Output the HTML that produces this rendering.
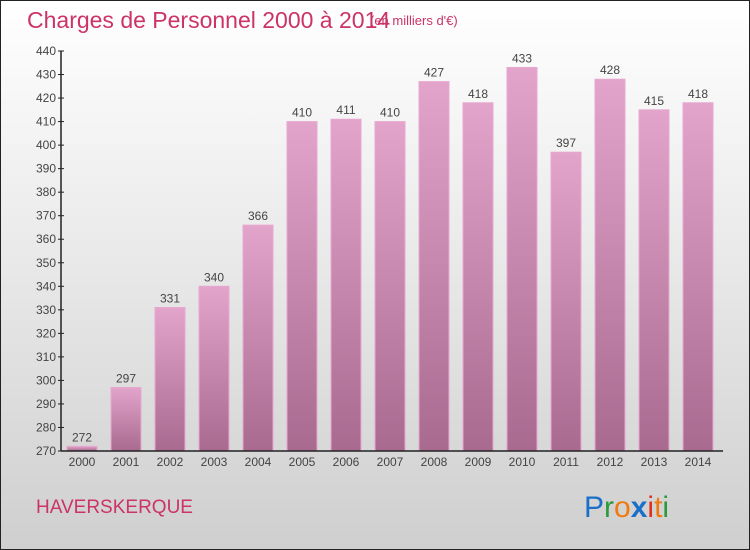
<!DOCTYPE html>
<html><head><meta charset="utf-8"><style>
body{margin:0}
#c{position:relative;width:748px;height:548px;border:1px solid #222;background:linear-gradient(#ffffff 0%,#eaeaea 45%,#cfcfcf 100%);font-family:"Liberation Sans",sans-serif;overflow:hidden}
</style></head><body>
<div id="c">
<svg width="748" height="548">
<defs><linearGradient id="bg" x1="0" y1="0" x2="0" y2="1"><stop offset="0" stop-color="#e3a4cb"/><stop offset="1" stop-color="#a96a90"/></linearGradient></defs>
<text x="26" y="27" font-size="23" fill="#cc3366">Charges de Personnel 2000 à 2014</text>
<text x="369" y="24" font-size="13" fill="#cc3366">(en milliers d'€)</text>
<g id="plot"></g>
<text x="35" y="512" font-size="19" fill="#cc3366">HAVERSKERQUE</text>
<g font-size="30" font-family="Liberation Sans, sans-serif">
<text x="583" y="516"><tspan fill="#1a6fc9">P</tspan><tspan fill="#2a9a3a">r</tspan><tspan fill="#f07a10">o</tspan><tspan fill="#1a6fc9" font-weight="bold">x</tspan><tspan fill="#e03020">i</tspan><tspan fill="#f07a10">t</tspan><tspan fill="#2a9a3a">i</tspan></text>
</g>
</svg>
</div>
<script>
const categories=["2000","2001","2002","2003","2004","2005","2006","2007","2008","2009","2010","2011","2012","2013","2014"];
const values=[272,297,331,340,366,410,411,410,427,418,433,397,428,415,418];
const yTicks=[270,280,290,300,310,320,330,340,350,360,370,380,390,400,410,420,430,440];
const NS="http://www.w3.org/2000/svg";
const g=document.getElementById("plot");
const y0=450,y1=50,vmin=270,vmax=440,axisX=60;
const y=v=>y0-(v-vmin)/(vmax-vmin)*(y0-y1);
const x=i=>81+i*44;
function mk(t,a){const e=document.createElementNS(NS,t);for(const k in a)e.setAttribute(k,a[k]);g.appendChild(e);return e;}
yTicks.forEach(t=>{
 const l=mk("line",{x1:axisX-3,x2:axisX+3,y1:y(t),y2:y(t),stroke:"#222"});
 
 
 const tx=mk("text",{x:axisX-5,y:y(t)+4,"text-anchor":"end","font-size":"12",fill:"#444"});
 tx.textContent=t;
 
 
});
values.forEach((v,i)=>{
 const r=mk("rect",{x:x(i)-15,y:y(v),width:30,height:y0-y(v),fill:"url(#bg)",stroke:"#e8a8cf","stroke-width":1});
 
 
 const t=mk("text",{x:x(i),y:y(v)-5,"text-anchor":"middle","font-size":"12",fill:"#444"});
 t.textContent=v;
 
 
 const c=mk("text",{x:x(i),y:y0+15,"text-anchor":"middle","font-size":"12",fill:"#444"});
 c.textContent=categories[i];
 
 
});
const ax=mk("line",{x1:axisX,x2:axisX,y1:y1,y2:y0,stroke:"#222","stroke-width":1.5});


const bx=mk("line",{x1:axisX,x2:722,y1:y0,y2:y0,stroke:"#222","stroke-width":1.5});


</script>
</body></html>
